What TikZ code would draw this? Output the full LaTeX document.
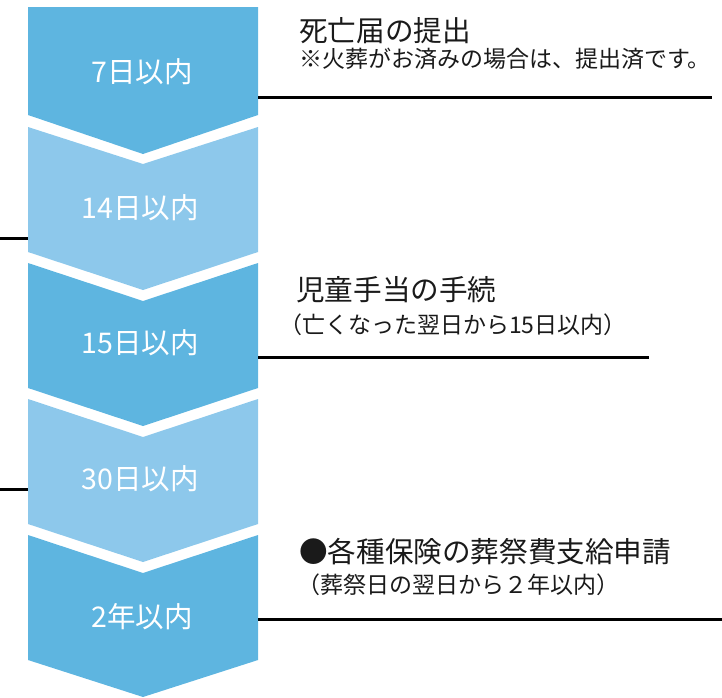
\documentclass[tikz,border=0pt]{standalone}
\usepackage{fontspec}
\newfontfamily\jp{Noto Sans CJK JP}
\definecolor{darkb}{HTML}{5EB5E0}
\definecolor{lightb}{HTML}{8DC8EB}
\definecolor{ink}{HTML}{1A1A1A}
\begin{document}
\begin{tikzpicture}[x=1pt,y=-1pt,
  lab/.style={text=white,font=\jp\fontsize{28.5}{28.5}\selectfont,inner sep=0pt},
  head/.style={text=ink,font=\jp\fontsize{28.6}{28.6}\selectfont,inner sep=0pt,anchor=west},
  note/.style={text=ink,font=\jp\fontsize{23}{23}\selectfont,inner sep=0pt,anchor=west},
  rule/.style={line width=3pt,black}]
\useasboundingbox (0,0) rectangle (722,697);
% chevrons
\fill[darkb]  (28,7) -- (258,7) -- (258,115) -- (143,154) -- (28,115) -- cycle;
\fill[lightb] (28,127) -- (143,164) -- (258,127) -- (258,252) -- (143,290) -- (28,252) -- cycle;
\fill[darkb]  (28,263) -- (143,301) -- (258,263) -- (258,388) -- (143,426) -- (28,388) -- cycle;
\fill[lightb] (28,399) -- (143,437) -- (258,399) -- (258,524) -- (143,562) -- (28,524) -- cycle;
\fill[darkb]  (28,535) -- (143,573) -- (258,535) -- (258,660) -- (143,697) -- (28,660) -- cycle;
% labels
\node[lab] (c1) at (142,72) {7日以内};
\node[lab] (c2) at (140,208) {14日以内};
\node[lab] (c3) at (140,343) {15日以内};
\node[lab] (c4) at (140,479) {30日以内};
\node[lab] (c5) at (142,617) {2年以内};
% connector coordinates
\coordinate (r1a) at (258,97);  \coordinate (r1b) at (712,97);
\coordinate (l2a) at (0,238);   \coordinate (l2b) at (28,238);
\coordinate (r3a) at (258,357); \coordinate (r3b) at (649,357);
\coordinate (l4a) at (0,489);   \coordinate (l4b) at (28,489);
\coordinate (r5a) at (258,619); \coordinate (r5b) at (722,619);
\draw[rule] (r1a) -- (r1b);
\draw[rule] (l2a) -- (l2b);
\draw[rule] (r3a) -- (r3b);
\draw[rule] (l4a) -- (l4b);
\draw[rule] (r5a) -- (r5b);
% texts
\node[head] (t1) at (299,31) {死亡届の提出};
\node[note] (t1n) at (299,59) {※火葬がお済みの場合は、提出済です。};
\node[head] (t3) at (296,290) {児童手当の手続};
\node[note] (t3n) at (279,325) {（亡くなった翌日から15日以内）};
\node[head] (t5) at (299,552) {●各種保険の葬祭費支給申請};
\node[note] (t5n) at (297,585) {（葬祭日の翌日から２年以内）};
\end{tikzpicture}
\end{document}
